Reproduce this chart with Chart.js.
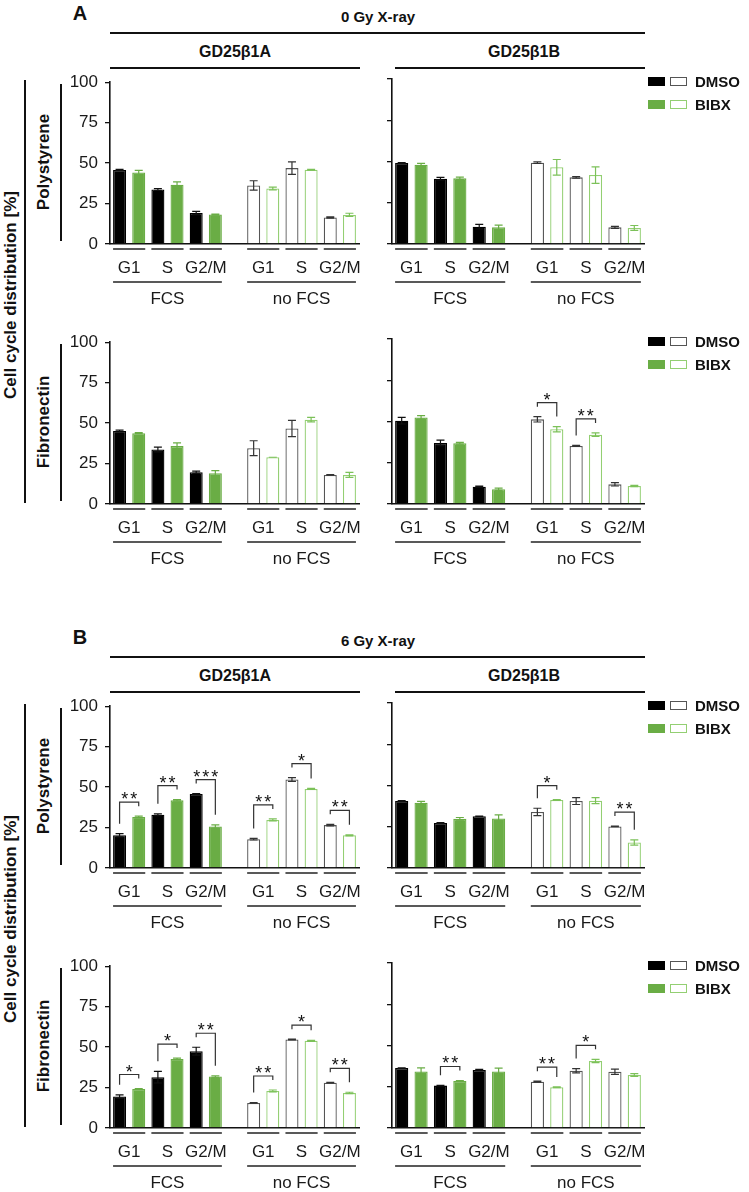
<!DOCTYPE html>
<html>
<head>
<meta charset="utf-8">
<script src="https://cdn.jsdelivr.net/npm/chart.js@4.4.1/dist/chart.umd.min.js"></script>
<style>
  body { margin: 0; background: #fff; }
  #fig { position: relative; width: 749px; height: 1192px; font-family: 'Liberation Sans', Arial, sans-serif; color: #111; overflow: hidden; }
  .t { position: absolute; white-space: nowrap; font-weight: bold; transform: translate(-50%, -50%); line-height: 1; }
  .rot { transform: translate(-50%, -50%) rotate(-90deg); }
  .hl { position: absolute; height: 1.5px; background: #111; }
  .vl { position: absolute; width: 1.5px; background: #111; }
  .box { position: absolute; width: 17px; height: 9px; box-sizing: border-box; }
  .lg { position: absolute; font-weight: bold; font-size: 15px; line-height: 1; transform: translateY(-50%); }
  canvas { position: absolute; }
</style>
</head>
<body>
<div id="fig"></div>
<script>
// Common labels
const phases = ['G1', 'S', 'G2/M'];
const serum = ['FCS', 'no FCS'];
const cellLines = ['GD25\u03b21A', 'GD25\u03b21B'];
const substrates = ['Polystyrene', 'Fibronectin'];
const doses = ['0 Gy X-ray', '6 Gy X-ray'];
const yTicks = [0, 25, 50, 75, 100];

// order in each array: FCS G1, S, G2/M, then no FCS G1, S, G2/M
// A: 0 Gy, polystyrene
const a_poly_1A_dmso = [45.8, 33.7, 19.2, 36.2, 46.9, 16.4];
const a_poly_1A_dmsoErr = [0.3, 0.6, 1.0, 2.9, 3.9, 0.4];
const a_poly_1A_bibx = [44.2, 36.6, 18.2, 34.3, 45.9, 18.0];
const a_poly_1A_bibxErr = [1.3, 1.8, 0.3, 0.8, 0.2, 1.0];
const a_poly_1A_sig = [];

const a_poly_1B_dmso = [49.1, 39.6, 10.5, 49.3, 40.4, 10.1];
const a_poly_1B_dmsoErr = [0.3, 0.8, 1.4, 0.5, 0.5, 0.6];
const a_poly_1B_bibx = [48.1, 39.8, 10.1, 46.5, 41.8, 9.7];
const a_poly_1B_bibxErr = [0.8, 0.7, 1.4, 4.7, 5.0, 1.5];
const a_poly_1B_sig = [];

// A: 0 Gy, fibronectin
const a_fibro_1A_dmso = [45.1, 33.7, 19.6, 34.5, 46.7, 18.0];
const a_fibro_1A_dmsoErr = [0.6, 1.5, 0.7, 4.6, 5.0, 0.2];
const a_fibro_1A_bibx = [43.8, 35.8, 19.0, 28.9, 52.1, 18.0];
const a_fibro_1A_bibxErr = [0.3, 2.0, 1.6, 0.0, 1.4, 1.5];
const a_fibro_1A_sig = [];

const a_fibro_1B_dmso = [50.5, 37.0, 10.5, 51.3, 35.2, 11.9];
const a_fibro_1B_dmsoErr = [2.0, 1.7, 0.3, 1.6, 0.3, 1.0];
const a_fibro_1B_bibx = [52.5, 36.8, 8.9, 45.3, 42.0, 10.9];
const a_fibro_1B_bibxErr = [1.1, 0.5, 0.7, 1.6, 1.1, 0.4];
const a_fibro_1B_sig = [[3, '*'], [4, '**']];

// B: 6 Gy, polystyrene
const b_poly_1A_dmso = [20.2, 32.9, 45.7, 17.8, 54.7, 26.5];
const b_poly_1A_dmsoErr = [1.0, 0.6, 0.3, 0.5, 1.2, 0.5];
const b_poly_1A_bibx = [31.5, 41.8, 25.7, 29.7, 48.9, 20.2];
const b_poly_1A_bibxErr = [0.5, 0.5, 1.0, 0.6, 0.3, 0.3];
const b_poly_1A_sig = [[0, '**'], [1, '**'], [2, '***'], [3, '**'], [4, '*'], [5, '**']];

const b_poly_1B_dmso = [40.6, 27.2, 31.4, 34.0, 40.6, 25.2];
const b_poly_1B_dmsoErr = [0.3, 0.3, 0.1, 2.2, 2.1, 0.2];
const b_poly_1B_bibx = [39.6, 29.8, 30.0, 41.2, 40.8, 15.5];
const b_poly_1B_bibxErr = [0.8, 0.8, 2.2, 0.2, 1.8, 1.6];
const b_poly_1B_sig = [[3, '*'], [5, '**']];

// B: 6 Gy, fibronectin
const b_fibro_1A_dmso = [19.5, 31.4, 47.5, 15.5, 54.7, 28.0];
const b_fibro_1A_dmsoErr = [1.0, 3.6, 2.4, 0.2, 0.2, 0.2];
const b_fibro_1A_bibx = [24.1, 42.7, 31.8, 22.9, 53.9, 21.7];
const b_fibro_1A_bibxErr = [0.3, 0.5, 0.5, 0.6, 0.3, 0.4];
const b_fibro_1A_sig = [[0, '*'], [1, '*'], [2, '**'], [3, '**'], [4, '*'], [5, '**']];

const b_fibro_1B_dmso = [36.3, 25.7, 35.1, 28.1, 34.7, 34.1];
const b_fibro_1B_dmsoErr = [0.2, 0.2, 0.4, 0.3, 1.3, 1.6];
const b_fibro_1B_bibx = [34.3, 28.5, 34.3, 24.7, 40.6, 32.1];
const b_fibro_1B_bibxErr = [2.2, 0.3, 2.0, 0.2, 1.0, 0.8];
const b_fibro_1B_sig = [[1, '**'], [3, '**'], [4, '*']];

const GREEN = '#6aad45';
const GREEN_LIGHT = '#93cf72';
const GREY = '#555';
const FONT = "'Liberation Sans', Arial, sans-serif";

const fig = document.getElementById('fig');

function el(cls, css, text) {
    const d = document.createElement('div');
    d.className = cls;
    Object.assign(d.style, css);
    if (text) d.textContent = text;
    fig.appendChild(d);
    return d;
}
const text = (s, x, y, size, rot) =>
    el('t' + (rot ? ' rot' : ''), { left: x + 'px', top: y + 'px', fontSize: size + 'px' }, s);
const hline = (x0, x1, y) => el('hl', { left: x0 + 'px', top: y + 'px', width: (x1 - x0) + 'px' });
const vline = (x, y0, y1) => el('vl', { left: x + 'px', top: y0 + 'px', height: (y1 - y0) + 'px' });

// slot layout: 6 bars for FCS, one empty slot, 6 bars for no FCS
const slotOf = k => (k < 3 ? 2 * k : 2 * k + 1);

function toSlots(dmso, bibx) {
    const out = [];
    for (let k = 0; k < 6; k++) {
        if (k === 3) out.push(null);
        out.push(dmso[k], bibx[k]);
    }
    return out;
}

// error bars drawn from the bar elements and the y scale
const errorBars = {
    id: 'errorBars',
    afterDatasetsDraw(chart, args, opts) {
        const { ctx } = chart;
        const y = chart.scales.y;
        const meta = chart.getDatasetMeta(0);
        const vals = chart.data.datasets[0].data;
        ctx.save();
        ctx.lineWidth = 1.2;
        opts.err.forEach((e, i) => {
            if (e == null || vals[i] == null) return;
            const bar = meta.data[i];
            const yt = y.getPixelForValue(vals[i] + e);
            const yb = y.getPixelForValue(vals[i] - e);
            ctx.strokeStyle = opts.colors[i];
            ctx.beginPath();
            ctx.moveTo(bar.x, yt); ctx.lineTo(bar.x, yb);
            ctx.moveTo(bar.x - 4, yt); ctx.lineTo(bar.x + 4, yt);
            ctx.moveTo(bar.x - 4, yb); ctx.lineTo(bar.x + 4, yb);
            ctx.stroke();
        });
        ctx.restore();
    }
};

// significance brackets above DMSO/BIBX pairs
const sigMarks = {
    id: 'sigMarks',
    afterDatasetsDraw(chart, args, opts) {
        const { ctx } = chart;
        const y = chart.scales.y;
        const meta = chart.getDatasetMeta(0);
        const vals = chart.data.datasets[0].data;
        ctx.save();
        ctx.strokeStyle = '#333';
        ctx.fillStyle = '#111';
        ctx.lineWidth = 1.2;
        ctx.font = '18px ' + FONT;
        ctx.textAlign = 'center';
        ctx.textBaseline = 'alphabetic';
        opts.sig.forEach(([k, label]) => {
            const i0 = slotOf(k), i1 = i0 + 1;
            const b0 = meta.data[i0], b1 = meta.data[i1];
            const t0 = y.getPixelForValue(vals[i0] + opts.err[i0]);
            const t1 = y.getPixelForValue(vals[i1] + opts.err[i1]);
            const ly = Math.min(t0, t1) - 14;
            const e0 = Math.max(ly + 4, t0 - 10);
            const e1 = Math.max(ly + 4, t1 - 10);
            ctx.beginPath();
            ctx.moveTo(b0.x, e0); ctx.lineTo(b0.x, ly); ctx.lineTo(b1.x, ly); ctx.lineTo(b1.x, e1);
            ctx.stroke();
            ctx.letterSpacing = '2px';
            ctx.fillText(label, (b0.x + b1.x) / 2 + 1, ly + 3);
        });
        ctx.restore();
    }
};

// phase and serum labels with their underlines
const groupAxis = {
    id: 'groupAxis',
    afterDraw(chart) {
        const { ctx, chartArea } = chart;
        const meta = chart.getDatasetMeta(0);
        const bottom = chartArea.bottom;
        ctx.save();
        ctx.strokeStyle = '#222';
        ctx.fillStyle = '#1a1a1a';
        ctx.lineWidth = 1.5;
        ctx.font = '17px ' + FONT;
        ctx.textAlign = 'center';
        ctx.textBaseline = 'middle';
        serum.forEach((s, c) => {
            let gx0 = Infinity, gx1 = -Infinity;
            phases.forEach((p, j) => {
                const i0 = slotOf(c * 3 + j);
                const b0 = meta.data[i0], b1 = meta.data[i0 + 1];
                const x0 = b0.x - b0.width / 2, x1 = b1.x + b1.width / 2;
                gx0 = Math.min(gx0, x0); gx1 = Math.max(gx1, x1);
                ctx.beginPath();
                ctx.moveTo(x0, bottom + 5); ctx.lineTo(x1, bottom + 5);
                ctx.stroke();
                ctx.fillText(p, (b0.x + b1.x) / 2, bottom + 24);
            });
            ctx.beginPath();
            ctx.moveTo(gx0, bottom + 38); ctx.lineTo(gx1, bottom + 38);
            ctx.stroke();
            ctx.fillText(s, (gx0 + gx1) / 2, bottom + 55);
        });
        ctx.restore();
    }
};

function makePanel(left, top100, isLeft, dmso, dmsoErr, bibx, bibxErr, sig) {
    const axisW = isLeft ? 60 : 52;
    const padR = isLeft ? 3 : 6;
    const W = isLeft ? 312 : 310;
    const H = 165 + 14 + 66;
    const canvas = document.createElement('canvas');
    canvas.width = W; canvas.height = H;
    canvas.style.left = left + 'px';
    canvas.style.top = (top100 - 14) + 'px';
    fig.appendChild(canvas);

    const values = toSlots(dmso, bibx);
    const errs = toSlots(dmsoErr, bibxErr);
    const fills = [], borders = [], errCols = [];
    values.forEach((v, i) => {
        const noFcs = i > 6;
        const isBibx = (i > 6 ? i - 7 : i) % 2 === 1;
        if (!noFcs) {
            fills.push(isBibx ? GREEN : '#000');
            borders.push(isBibx ? GREEN : '#000');
            errCols.push(isBibx ? GREEN : '#111');
        } else {
            fills.push('#fff');
            borders.push(isBibx ? GREEN_LIGHT : GREY);
            errCols.push(isBibx ? '#7cc159' : '#333');
        }
    });

    new Chart(canvas, {
        type: 'bar',
        data: {
            labels: values.map(() => ''),
            datasets: [{
                data: values,
                backgroundColor: fills,
                borderColor: borders,
                borderWidth: 1.3,
                barPercentage: 0.68,
                categoryPercentage: 1
            }]
        },
        options: {
            responsive: false,
            animation: false,
            devicePixelRatio: 1,
            layout: { padding: { top: 14, right: padR, bottom: 66, left: 0 } },
            plugins: {
                legend: { display: false },
                tooltip: { enabled: false },
                errorBars: { err: errs, colors: errCols },
                sigMarks: { sig: sig, err: errs }
            },
            scales: {
                x: {
                    grid: { display: false, drawTicks: false },
                    ticks: { display: false },
                    border: { display: true, color: '#111', width: 1.6 }
                },
                y: {
                    min: 0, max: 100,
                    afterFit: s => { s.width = axisW; },
                    afterBuildTicks: s => { s.ticks = yTicks.map(v => ({ value: v })); },
                    grid: { drawOnChartArea: false, drawTicks: true, tickLength: 5, color: '#111', lineWidth: 1.3 },
                    border: { display: true, color: '#111', width: 1.6 },
                    ticks: {
                        display: isLeft,
                        padding: 7,
                        color: '#1a1a1a',
                        font: { family: FONT, size: 17 }
                    }
                }
            }
        },
        plugins: [errorBars, sigMarks, groupAxis]
    });
}

function legend(top100) {
    const rows = [['DMSO', '#000', GREY], ['BIBX', GREEN, GREEN_LIGHT]];
    rows.forEach(([name, fill, line], r) => {
        const cy = top100 + 2 + r * 23;
        el('box', { left: '648px', top: (cy - 4.5) + 'px', background: fill });
        el('box', { left: '670px', top: (cy - 4.5) + 'px', background: '#fff', border: '1.3px solid ' + line });
        el('lg', { left: '695px', top: cy + 'px' }, name);
    });
}

const panels = [
    [a_poly_1A_dmso, a_poly_1A_dmsoErr, a_poly_1A_bibx, a_poly_1A_bibxErr, a_poly_1A_sig],
    [a_poly_1B_dmso, a_poly_1B_dmsoErr, a_poly_1B_bibx, a_poly_1B_bibxErr, a_poly_1B_sig],
    [a_fibro_1A_dmso, a_fibro_1A_dmsoErr, a_fibro_1A_bibx, a_fibro_1A_bibxErr, a_fibro_1A_sig],
    [a_fibro_1B_dmso, a_fibro_1B_dmsoErr, a_fibro_1B_bibx, a_fibro_1B_bibxErr, a_fibro_1B_sig],
    [b_poly_1A_dmso, b_poly_1A_dmsoErr, b_poly_1A_bibx, b_poly_1A_bibxErr, b_poly_1A_sig],
    [b_poly_1B_dmso, b_poly_1B_dmsoErr, b_poly_1B_bibx, b_poly_1B_bibxErr, b_poly_1B_sig],
    [b_fibro_1A_dmso, b_fibro_1A_dmsoErr, b_fibro_1A_bibx, b_fibro_1A_bibxErr, b_fibro_1A_sig],
    [b_fibro_1B_dmso, b_fibro_1B_dmsoErr, b_fibro_1B_bibx, b_fibro_1B_bibxErr, b_fibro_1B_sig]
];

['A', 'B'].forEach((letter, s) => {
    const dy = s * 624;
    text(letter, 80, 13 + dy, 20);
    text(doses[s], 378, 16 + dy, 15);
    hline(110, 645, 32 + dy);
    text(cellLines[0], 235, 52 + dy, 16);
    text(cellLines[1], 524, 52 + dy, 16);
    hline(110, 360, 67 + dy);
    hline(395, 645, 67 + dy);

    vline(24, 80 + dy, 503 + dy);
    text('Cell cycle distribution [%]', 10, 295 + dy, 17, true);

    [79, 339].forEach((t, r) => {
        const top100 = t + dy;
        vline(60, top100 + 5, top100 + 162);
        text(substrates[r], 43, top100 + 83, 17, true);
        const p0 = panels[s * 4 + r * 2];
        const p1 = panels[s * 4 + r * 2 + 1];
        makePanel(50, top100, true, ...p0);
        makePanel(340, top100, false, ...p1);
        legend(top100);
    });
});
</script>
</body>
</html>
